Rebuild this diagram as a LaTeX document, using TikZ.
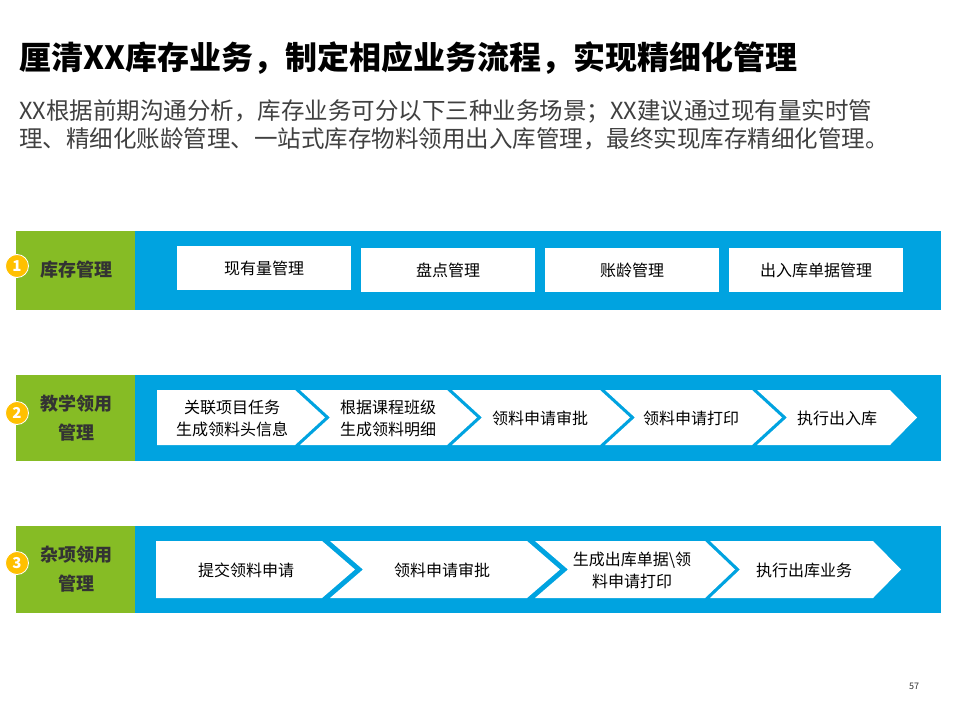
\documentclass[tikz,border=0pt]{standalone}
\usepackage{fontspec}
\setmainfont{Noto Sans CJK SC}
\definecolor{bblue}{HTML}{00A3E0}
\definecolor{lgreen}{HTML}{86BC25}
\definecolor{badgey}{HTML}{FFC000}
\definecolor{subgray}{HTML}{404040}
\definecolor{lblgray}{HTML}{333333}
\tikzset{
  bluebar/.style={fill=bblue, draw=none},
  greenbar/.style={fill=lgreen, draw=none},
  wbox/.style={fill=white, draw=none, minimum width=174pt, minimum height=44pt, inner sep=0pt, font=\fontsize{16}{22}\selectfont},
  chev/.style={fill=white, draw=none},
  steptext/.style={inner sep=0pt, align=center, font=\fontsize{16}{22}\selectfont, text=black},
  rowlabel/.style={inner sep=0pt, align=center, font=\bfseries\fontsize{18}{29}\selectfont, text=lblgray},
  badge/.style={circle, fill=badgey, draw=white, line width=0.8pt, minimum size=23pt, inner sep=0pt, text=white, font=\bfseries\fontsize{15}{15}\selectfont},
}
\begin{document}
\begin{tikzpicture}[x=1pt,y=-1pt]
\useasboundingbox[fill=white] (0,0) rectangle (960,720);

% title and subtitle
\node[anchor=base west, inner sep=0pt, font=\bfseries\fontsize{32}{38}\selectfont] (title) at (19,69) {厘清XX库存业务，制定相应业务流程，实现精细化管理};
\node[anchor=base west, inner sep=0pt, font=\fontsize{23.5}{28}\selectfont, text=subgray] (sub1) at (19,119) {XX根据前期沟通分析，库存业务可分以下三种业务场景；XX建议通过现有量实时管};
\node[anchor=base west, inner sep=0pt, font=\fontsize{23.5}{28}\selectfont, text=subgray] (sub2) at (19,147) {理、精细化账龄管理、一站式库存物料领用出入库管理，最终实现库存精细化管理。};

% ---------- row 1 ----------
\path[greenbar] (16,231) rectangle (135,310);
\path[bluebar] (135,231) rectangle (941,310);
\node[rowlabel] (l1) at (76,270) {库存管理};
\node[badge] (b1) at (17,266) {1};
\node[wbox] (r1a) at (264,268) {现有量管理};
\node[wbox] (r1b) at (448,270) {盘点管理};
\node[wbox] (r1c) at (632,270) {账龄管理};
\node[wbox] (r1d) at (816,270) {出入库单据管理};

% ---------- row 2 ----------
\path[greenbar] (16,375) rectangle (135,461);
\path[bluebar] (135,375) rectangle (941,461);
\node[rowlabel] (l2) at (76,418.5) {教学领用\\管理};
\node[badge] (b2) at (17,413) {2};
\path[chev] (157,390) -- (295,390) -- (325,417.5) -- (295,445) -- (157,445) -- cycle;
\path[chev] (300,390) -- (447,390) -- (477,417.5) -- (447,445) -- (300,445) -- (330,417.5) -- cycle;
\path[chev] (452,390) -- (600,390) -- (630,417.5) -- (600,445) -- (452,445) -- (482,417.5) -- cycle;
\path[chev] (605,390) -- (752,390) -- (782,417.5) -- (752,445) -- (605,445) -- (635,417.5) -- cycle;
\path[chev] (757,390) -- (890,390) -- (917,417.5) -- (890,445) -- (757,445) -- (787,417.5) -- cycle;
\node[steptext] (s21) at (232,418) {关联项目任务\\生成领料头信息};
\node[steptext] (s22) at (388,418) {根据课程班级\\生成领料明细};
\node[steptext] (s23) at (540,418) {领料申请审批};
\node[steptext] (s24) at (691,418) {领料申请打印};
\node[steptext] (s25) at (837,418) {执行出入库};

% ---------- row 3 ----------
\path[greenbar] (16,526) rectangle (135,613);
\path[bluebar] (135,526) rectangle (941,613);
\node[rowlabel] (l3) at (76,569.5) {杂项领用\\管理};
\node[badge] (b3) at (17,563) {3};
\path[chev] (156,541) -- (322,541) -- (355,569.5) -- (322,598) -- (156,598) -- cycle;
\path[chev] (330,541) -- (527,541) -- (560,569.5) -- (527,598) -- (330,598) -- (363,569.5) -- cycle;
\path[chev] (535,541) -- (705,541) -- (735,569.5) -- (705,598) -- (535,598) -- (568,569.5) -- cycle;
\path[chev] (710,541) -- (873,541) -- (901,569.5) -- (873,598) -- (710,598) -- (740,569.5) -- cycle;
\node[steptext] (s31) at (246,570) {提交领料申请};
\node[steptext] (s32) at (442,570) {领料申请审批};
\node[steptext] (s33) at (632,570) {生成出库单据\textbackslash 领\\料申请打印};
\node[steptext] (s34) at (804,570) {执行出库业务};

% page number
\node[inner sep=0pt, font=\fontsize{9}{9}\selectfont, text=lblgray] (pg) at (914,686) {57};
\end{tikzpicture}
\end{document}
